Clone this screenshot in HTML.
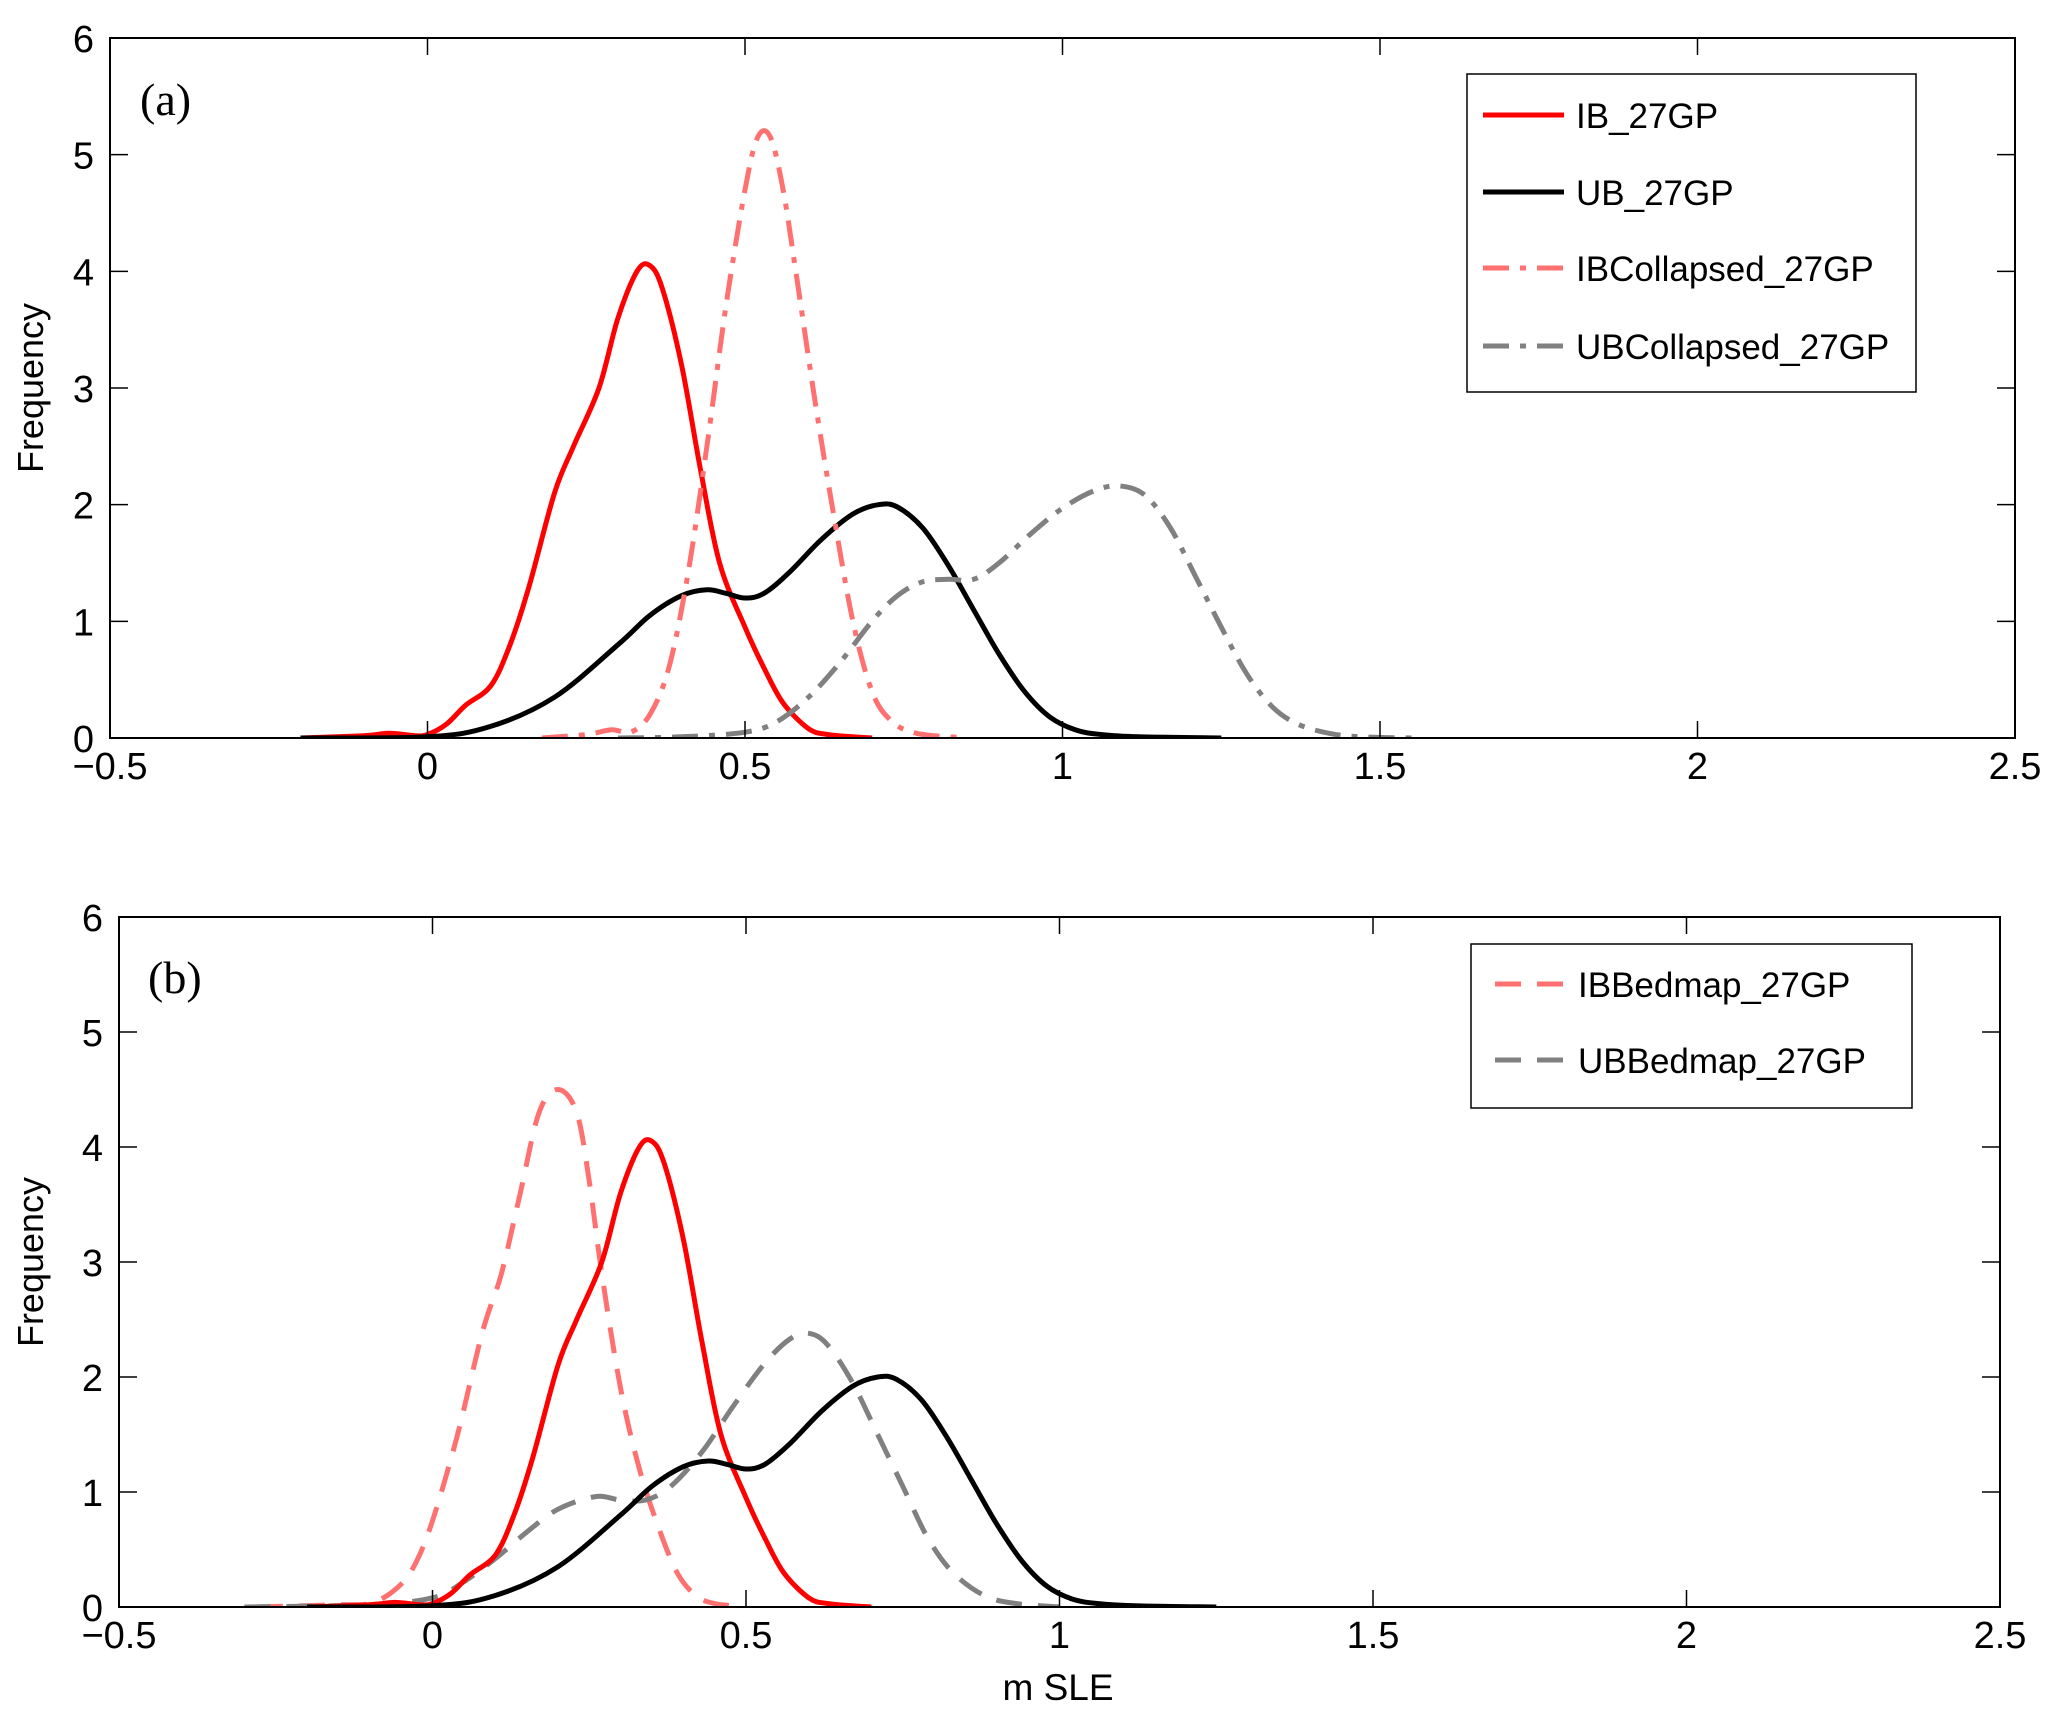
<!DOCTYPE html>
<html><head><meta charset="utf-8"><style>
html,body{margin:0;padding:0;background:#fff;}
svg{display:block;font-family:"Liberation Sans",Arial,sans-serif;}
</style></head><body>
<svg id="chart" width="2067" height="1727" viewBox="0 0 2067 1727" xmlns="http://www.w3.org/2000/svg"></svg>
<script>
const xTicks=[-0.5,0,0.5,1,1.5,2,2.5];
const xTickLabels=["\u22120.5","0","0.5","1","1.5","2","2.5"];
const yTicks=[0,1,2,3,4,5,6];
const yTickLabels=["0","1","2","3","4","5","6"];
const ibX=[-0.2,-0.1,-0.06,-0.02,0,0.03,0.06,0.1,0.13,0.16,0.2,0.23,0.27,0.3,0.33,0.35,0.37,0.4,0.43,0.46,0.5,0.53,0.56,0.6,0.63,0.67,0.7];
const ibY=[0,0.02,0.04,0.02,0.03,0.12,0.28,0.45,0.8,1.3,2.1,2.5,3.0,3.6,4.0,4.05,3.85,3.2,2.3,1.5,0.95,0.6,0.3,0.08,0.03,0.01,0];
const ubX=[-0.2,0,0.1,0.2,0.3,0.35,0.4,0.44,0.47,0.5,0.53,0.57,0.62,0.67,0.71,0.74,0.78,0.82,0.86,0.9,0.94,0.98,1.02,1.06,1.12,1.25];
const ubY=[0,0.01,0.1,0.35,0.8,1.05,1.22,1.27,1.24,1.2,1.24,1.42,1.7,1.92,2.0,1.98,1.8,1.48,1.1,0.72,0.4,0.18,0.07,0.03,0.01,0];
const ibcX=[0.18,0.25,0.29,0.32,0.35,0.38,0.41,0.44,0.47,0.5,0.52,0.54,0.56,0.58,0.61,0.64,0.67,0.7,0.73,0.77,0.85];
const ibcY=[0,0.03,0.07,0.05,0.2,0.6,1.4,2.5,3.7,4.7,5.15,5.15,4.7,4.0,2.9,1.9,1.0,0.4,0.15,0.04,0];
const ubcX=[0.3,0.4,0.5,0.55,0.6,0.65,0.7,0.74,0.78,0.82,0.86,0.9,0.95,1.0,1.05,1.09,1.13,1.17,1.21,1.25,1.29,1.33,1.37,1.42,1.47,1.55];
const ubcY=[0,0.01,0.05,0.14,0.35,0.65,1.0,1.22,1.34,1.36,1.36,1.5,1.75,1.97,2.12,2.16,2.08,1.8,1.38,0.95,0.55,0.27,0.12,0.04,0.01,0];
const ibbX=[-0.28,-0.15,-0.1,-0.06,-0.03,0,0.04,0.08,0.11,0.14,0.17,0.2,0.23,0.25,0.27,0.3,0.33,0.36,0.39,0.42,0.45,0.5];
const ibbY=[0,0.02,0.03,0.15,0.35,0.75,1.5,2.4,2.9,3.6,4.3,4.5,4.3,3.7,2.9,1.9,1.2,0.7,0.3,0.1,0.03,0];
const ubbX=[-0.3,-0.1,0,0.05,0.1,0.15,0.2,0.26,0.3,0.34,0.38,0.43,0.48,0.53,0.57,0.6,0.63,0.67,0.71,0.75,0.79,0.83,0.88,0.93,1.0];
const ubbY=[0,0.02,0.08,0.22,0.42,0.65,0.85,0.96,0.93,0.93,1.05,1.35,1.75,2.12,2.33,2.38,2.28,1.95,1.5,1.05,0.6,0.3,0.1,0.03,0];

const NS="http://www.w3.org/2000/svg";
const svg=document.getElementById('chart');
function mk(tag,attrs,parent){const e=document.createElementNS(NS,tag);for(const k in attrs)e.setAttribute(k,attrs[k]);(parent||svg).appendChild(e);return e;}

const panels=[
 {id:'a',L:110,R:2015,T:38,B:738,label:'(a)',lx:140,ly:115,
  series:[
   {name:'ib-27gp',x:ibX,y:ibY,c:'#ff0000',d:''},
   {name:'ub-27gp',x:ubX,y:ubY,c:'#000000',d:''},
   {name:'ibcollapsed-27gp',x:ibcX,y:ibcY,c:'#ff7070',d:'26 11 6 11'},
   {name:'ubcollapsed-27gp',x:ubcX,y:ubcY,c:'#808080',d:'26 11 6 11'}],
  legend:{x:1467,y:74,w:449,h:318,rows:[115,192,268,346],lx1:1483,lx2:1564,tx:1576,
   items:[['IB_27GP','#ff0000',''],['UB_27GP','#000000',''],['IBCollapsed_27GP','#ff7070','26 11 6 11'],['UBCollapsed_27GP','#808080','26 11 6 11']]}},
 {id:'b',L:119,R:2000,T:917,B:1607,label:'(b)',lx:148,ly:993,
  series:[
   {name:'ibbedmap-27gp',x:ibbX,y:ibbY,c:'#ff7070',d:'26 16'},
   {name:'ubbedmap-27gp',x:ubbX,y:ubbY,c:'#808080',d:'26 16'},
   {name:'ib-27gp-b',x:ibX,y:ibY,c:'#ff0000',d:''},
   {name:'ub-27gp-b',x:ubX,y:ubY,c:'#000000',d:''}],
  legend:{x:1471,y:944,w:441,h:164,rows:[984,1060],lx1:1495,lx2:1566,tx:1578,
   items:[['IBBedmap_27GP','#ff7070','26 16'],['UBBedmap_27GP','#808080','26 16']]}}
];

function smoothPath(px,py){
 let d='M'+px[0].toFixed(1)+' '+py[0].toFixed(1);
 for(let i=0;i<px.length-1;i++){
  const i0=Math.max(0,i-1),i3=Math.min(px.length-1,i+2);
  const c1x=px[i]+(px[i+1]-px[i0])/6,c1y=py[i]+(py[i+1]-py[i0])/6;
  const c2x=px[i+1]-(px[i3]-px[i])/6,c2y=py[i+1]-(py[i3]-py[i])/6;
  d+=' C'+c1x.toFixed(1)+' '+c1y.toFixed(1)+' '+c2x.toFixed(1)+' '+c2y.toFixed(1)+' '+px[i+1].toFixed(1)+' '+py[i+1].toFixed(1);
 }
 return d;
}

panels.forEach(p=>{
 const g=mk('g',{});
 
 
 const sx=v=>p.L+(v-(-0.5))/3*(p.R-p.L);
 const sy=v=>p.B-v/6*(p.B-p.T);
 const clipId='clip'+p.id;
 const cp=mk('clipPath',{id:clipId},g);
 mk('rect',{x:p.L,y:p.T,width:p.R-p.L,height:p.B-p.T},cp);
 p.series.forEach(s=>{
  const px=s.x.map(sx),py=s.y.map(sy);
  const path=mk('path',{d:smoothPath(px,py),fill:'none',stroke:s.c,'stroke-width':5,'stroke-dasharray':s.d||'none','clip-path':'url(#'+clipId+')'},g);
  
  
 });
 const box=mk('rect',{x:p.L,y:p.T,width:p.R-p.L,height:p.B-p.T,fill:'none',stroke:'#000','stroke-width':2},g);
 
 
 xTicks.forEach((v,i)=>{
  const x=sx(v);
  mk('line',{x1:x,x2:x,y1:p.B,y2:p.B-17,stroke:'#000','stroke-width':1.5},g);
  mk('line',{x1:x,x2:x,y1:p.T,y2:p.T+17,stroke:'#000','stroke-width':1.5},g);
  const t=mk('text',{x:x,y:p.B+41,'font-size':38,'text-anchor':'middle',fill:'#000'},g);
  t.textContent=xTickLabels[i];
  
  
 });
 yTicks.forEach((v,i)=>{
  const y=sy(v);
  mk('line',{x1:p.L,x2:p.L+18,y1:y,y2:y,stroke:'#000','stroke-width':1.5},g);
  mk('line',{x1:p.R,x2:p.R-18,y1:y,y2:y,stroke:'#000','stroke-width':1.5},g);
  const t=mk('text',{x:p.L-16,y:y+14,'font-size':38,'text-anchor':'end',fill:'#000'},g);
  t.textContent=yTickLabels[i];
  
  
 });
 const yl=mk('text',{x:0,y:0,'font-size':36,'text-anchor':'middle',fill:'#000',transform:'translate(43,'+((p.T+p.B)/2)+') rotate(-90)'},g);
 yl.textContent='Frequency';
 
 
 const pl=mk('text',{x:p.lx,y:p.ly,'font-size':46,fill:'#000','font-family':'Liberation Serif, serif'},g);
 pl.textContent=p.label;
 
 
 const lg=mk('g',{},g);
 
 
 const L=p.legend;
 mk('rect',{x:L.x,y:L.y,width:L.w,height:L.h,fill:'#fff',stroke:'#000','stroke-width':1.5},lg);
 L.items.forEach((it,i)=>{
  const e=mk('g',{},lg);
  
  
  mk('line',{x1:L.lx1,x2:L.lx2,y1:L.rows[i],y2:L.rows[i],stroke:it[1],'stroke-width':5,'stroke-dasharray':it[2]||'none'},e);
  const t=mk('text',{x:L.tx,y:L.rows[i]+13,'font-size':35,fill:'#000'},e);
  t.textContent=it[0];
 });
});
const xt=mk('text',{x:1058,y:1700,'font-size':37,'text-anchor':'middle',fill:'#000'});
xt.textContent='m SLE';


</script>
</body></html>
